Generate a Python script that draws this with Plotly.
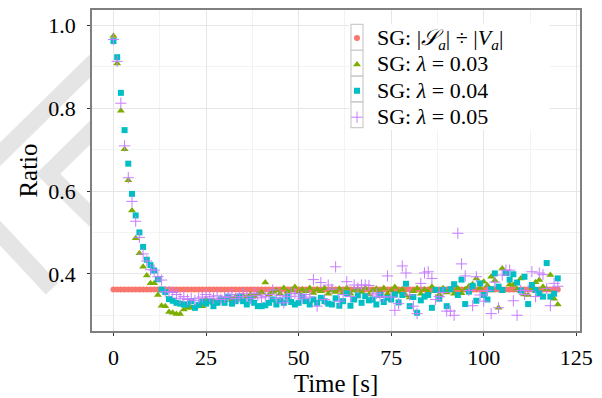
import plotly.graph_objects as go

time_s = list(range(0, 121))

ratio_sa_va = [0.362] * len(time_s)

lambda_003 = [
    0.974, 0.908, 0.794, 0.701, 0.626, 0.553, 0.486, 0.450, 0.417, 0.396,
    0.377, 0.377, 0.349, 0.323, 0.322, 0.308, 0.306, 0.303, 0.303, 0.314,
    0.318, 0.318, 0.320, 0.325, 0.322, 0.338, 0.330, 0.335, 0.332, 0.340,
    0.336, 0.342, 0.338, 0.345, 0.340, 0.348, 0.344, 0.350, 0.346, 0.352,
    0.355, 0.379, 0.350, 0.356, 0.360, 0.352, 0.366, 0.356, 0.360, 0.368,
    0.355, 0.362, 0.358, 0.366, 0.354, 0.362, 0.358, 0.365, 0.352, 0.360,
    0.356, 0.364, 0.355, 0.366, 0.352, 0.360, 0.362, 0.356, 0.365, 0.350,
    0.360, 0.364, 0.357, 0.366, 0.352, 0.360, 0.368, 0.356, 0.362, 0.348,
    0.343, 0.358, 0.365, 0.352, 0.362, 0.356, 0.369, 0.358, 0.350, 0.365,
    0.355, 0.360, 0.352, 0.365, 0.353, 0.362, 0.370, 0.375, 0.389, 0.366,
    0.381, 0.372, 0.393, 0.384, 0.318, 0.413, 0.400, 0.374, 0.373, 0.362,
    0.389, 0.350, 0.349, 0.365, 0.380, 0.385, 0.369, 0.363, 0.397, 0.340,
    0.326,
]

lambda_004 = [
    0.962, 0.923, 0.837, 0.747, 0.666, 0.593, 0.541, 0.500, 0.465, 0.434,
    0.421, 0.408, 0.387, 0.362, 0.356, 0.339, 0.335, 0.330, 0.328, 0.326,
    0.326, 0.334, 0.318, 0.325, 0.333, 0.328, 0.334, 0.322, 0.330, 0.338,
    0.330, 0.345, 0.328, 0.334, 0.345, 0.334, 0.326, 0.340, 0.330, 0.322,
    0.322, 0.324, 0.330, 0.338, 0.326, 0.336, 0.330, 0.345, 0.332, 0.326,
    0.330, 0.345, 0.334, 0.326, 0.338, 0.330, 0.342, 0.334, 0.328, 0.326,
    0.341, 0.323, 0.334, 0.353, 0.323, 0.338, 0.348, 0.330, 0.346, 0.336,
    0.338, 0.326, 0.349, 0.332, 0.342, 0.338, 0.350, 0.331, 0.349, 0.376,
    0.322, 0.344, 0.306, 0.336, 0.345, 0.349, 0.318, 0.361, 0.340, 0.361,
    0.322, 0.363, 0.375, 0.349, 0.386, 0.327, 0.357, 0.371, 0.335, 0.377,
    0.349, 0.338, 0.363, 0.401, 0.369, 0.361, 0.402, 0.386, 0.399, 0.379,
    0.360, 0.393, 0.327, 0.373, 0.361, 0.353, 0.345, 0.426, 0.345, 0.352,
    0.389,
]

lambda_005 = [
    0.966, 0.913, 0.812, 0.709, 0.632, 0.575, 0.527, 0.488, 0.448, 0.431,
    0.410, 0.409, 0.393, 0.385, 0.357, 0.357, 0.355, 0.350, 0.341, 0.345,
    0.338, 0.340, 0.336, 0.341, 0.344, 0.350, 0.345, 0.341, 0.347, 0.338,
    0.343, 0.345, 0.350, 0.340, 0.345, 0.352, 0.346, 0.340, 0.353, 0.348,
    0.342, 0.345, 0.350, 0.361, 0.341, 0.348, 0.330, 0.345, 0.352, 0.353,
    0.346, 0.341, 0.350, 0.344, 0.386, 0.322, 0.379, 0.338, 0.373, 0.363,
    0.417, 0.334, 0.350, 0.381, 0.345, 0.373, 0.366, 0.373, 0.373, 0.372,
    0.349, 0.353, 0.345, 0.344, 0.395, 0.344, 0.312, 0.328, 0.419, 0.402,
    0.349, 0.322, 0.304, 0.377, 0.402, 0.405, 0.389, 0.338, 0.345, 0.355,
    0.310, 0.310, 0.300, 0.498, 0.424, 0.395, 0.360, 0.323, 0.393, 0.349,
    0.334, 0.360, 0.304, 0.380, 0.318, 0.397, 0.409, 0.409, 0.335, 0.300,
    0.360, 0.350, 0.360, 0.405, 0.345, 0.402, 0.398, 0.365, 0.323, 0.377,
    0.370,
]

x_ticks = [0, 25, 50, 75, 100, 125]
y_ticks = [0.4, 0.6, 0.8, 1.0]

series_names = [
    "SG: |<i>𝒮</i><sub><i>a</i></sub>| ÷ |<i>V</i><sub><i>a</i></sub>|",
    "SG: <i>λ</i> = 0.03",
    "SG: <i>λ</i> = 0.04",
    "SG: <i>λ</i> = 0.05",
]
colors = ["#F8766D", "#7CAE00", "#00BFC4", "#C77CFF"]

FONT = "Liberation Serif"

def big(s):
    return '<span style="font-size:22px">' + s + '</span>'

fig = go.Figure()
fig.add_trace(go.Scatter(x=time_s, y=ratio_sa_va, mode="markers", name=big(series_names[0]),
                         marker=dict(symbol="circle", size=6, color=colors[0], line=dict(width=0))))
fig.add_trace(go.Scatter(x=time_s, y=lambda_003, mode="markers", name=big(series_names[1]),
                         marker=dict(symbol="triangle-up", size=7, color=colors[1], line=dict(width=0))))
fig.add_trace(go.Scatter(x=time_s, y=lambda_004, mode="markers", name=big(series_names[2]),
                         marker=dict(symbol="square", size=6, color=colors[2], line=dict(width=0))))
fig.add_trace(go.Scatter(x=time_s, y=lambda_005, mode="markers", name=big(series_names[3]),
                         marker=dict(symbol="cross-thin-open", size=8, color=colors[3],
                                     line=dict(width=1, color=colors[3]))))

L, R, T, B = 92, 22, 8, 63
W, H = 602, 398

def px_x(p):
    return (p - L) / (W - L - R)

def px_y(p):
    return 1 - (p - T) / (H - T - B)

WM = "#E5E5E5"
shapes = []
# faint background watermark (only visible in the margins)
wm_paths = [
    [(95, 60), (-12, 167)],
    [(-12, 222), (52, 292)],
    [(97, 126), (48, 175), (97, 224)],
]
for pts in wm_paths:
    d = "M " + " L ".join(f"{px_x(x):.4f},{px_y(y):.4f}" for x, y in pts)
    shapes.append(dict(type="path", xref="paper", yref="paper", layer="below", path=d,
                       line=dict(color=WM, width=17)))
# panel background
shapes.append(dict(type="rect", xref="paper", yref="paper", layer="below",
                   x0=0, x1=1, y0=0, y1=1, fillcolor="white", line=dict(width=0)))
# white legend background with key boxes
shapes.append(dict(type="rect", xref="paper", yref="paper", layer="above",
                   x0=px_x(349), x1=px_x(550), y0=px_y(130), y1=px_y(22),
                   fillcolor="white", line=dict(width=0)))
for i in range(4):
    top = 22.7 + i * 26.3
    shapes.append(dict(type="rect", xref="paper", yref="paper", layer="above",
                       x0=px_x(351), x1=px_x(363), y0=px_y(top + 26.3), y1=px_y(top),
                       fillcolor="rgba(0,0,0,0)", line=dict(width=1.2, color="#CCCCCC")))

fig.update_layout(
    width=W, height=H,
    margin=dict(l=L, r=R, t=T, b=B),
    paper_bgcolor="white", plot_bgcolor="rgba(0,0,0,0)",
    font=dict(family=FONT, size=22, color="black"),
    showlegend=True,
    legend=dict(x=px_x(337), y=px_y(18), xanchor="left", yanchor="top",
                bgcolor="rgba(0,0,0,0)", borderwidth=0,
                font=dict(family=FONT, size=18), tracegroupgap=0, itemwidth=30),
    shapes=shapes,
)
fig.update_xaxes(
    range=[-5.8, 126], tickvals=x_ticks, ticktext=[str(v) for v in x_ticks],
    showgrid=True, gridcolor="#E6E6E6", gridwidth=1,
    minor=dict(tickvals=[12.5, 37.5, 62.5, 87.5, 112.5], showgrid=True, gridcolor="#F3F3F3", gridwidth=0.8, ticks=""),
    ticks="outside", ticklen=3, tickwidth=1, tickcolor="#333333",
    showline=True, linecolor="#7F7F7F", linewidth=1.5, mirror=True, zeroline=False,
    ticklabelstandoff=3,
    title=dict(text="Time [s]", font=dict(family=FONT, size=25), standoff=2),
)
fig.update_yaxes(
    range=[0.262, 1.037], tickvals=y_ticks, ticktext=["0.4", "0.6", "0.8", "1.0"],
    showgrid=True, gridcolor="#E6E6E6", gridwidth=1,
    minor=dict(tickvals=[0.3, 0.5, 0.7, 0.9], showgrid=True, gridcolor="#F3F3F3", gridwidth=0.8, ticks=""),
    ticks="outside", ticklen=3, tickwidth=1, tickcolor="#333333",
    showline=True, linecolor="#7F7F7F", linewidth=1.5, mirror=True, zeroline=False,
    ticklabelstandoff=7,
    title=dict(text="Ratio", font=dict(family=FONT, size=25), standoff=4),
)

fig.write_html("out.html")
